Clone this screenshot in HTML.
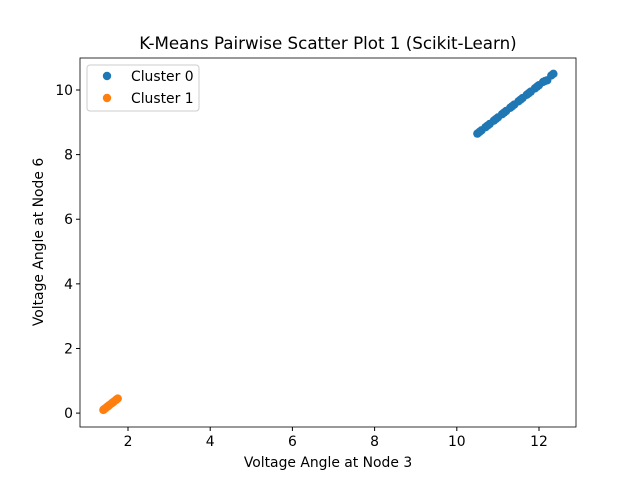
<!DOCTYPE html>
<html><head><meta charset="utf-8"><style>body{margin:0;background:#fff}svg{display:block;font-family:"DejaVu Sans","Liberation Sans",sans-serif}</style></head>
<body>
<svg id="c" width="640" height="480"></svg>
<script>
const xTicks=[2,4,6,8,10,12];
const yTicks=[0,2,4,6,8,10];
const c0x=[10.5,10.6,10.7,10.8,10.9,11.0,11.1,11.2,11.3,11.4,11.5,11.6,11.7,11.8,11.9,12.0,12.1,12.2,12.3,12.35,10.55,10.75,10.95,11.15,11.35,11.55,11.75,11.95,12.15];
const c0y=[8.65,8.75,8.85,8.95,9.05,9.15,9.25,9.35,9.45,9.55,9.65,9.75,9.85,9.95,10.05,10.15,10.25,10.3,10.45,10.5,8.7,8.9,9.1,9.3,9.5,9.7,9.9,10.1,10.28];
const c1x=[1.4,1.45,1.5,1.55,1.6,1.65,1.7,1.75,1.42,1.52,1.62,1.72];
const c1y=[0.1,0.15,0.2,0.25,0.3,0.35,0.4,0.45,0.12,0.22,0.32,0.42];
const L=80,R=576,T=58,B=427,xmin=0.832,xmax=12.9,ymin=-0.43,ymax=10.99;
const sx=v=>L+(v-xmin)/(xmax-xmin)*(R-L), sy=v=>B-(v-ymin)/(ymax-ymin)*(B-T);
const svg=document.getElementById('c');const NS='http://www.w3.org/2000/svg';
function mk(t,a,txt){const e=document.createElementNS(NS,t);for(const k in a)e.setAttribute(k,a[k]);if(txt!==undefined)e.textContent=txt;svg.appendChild(e);return e;}
let e=mk('text',{x:328,y:49,'text-anchor':'middle','font-size':16.7},'K-Means Pairwise Scatter Plot 1 (Scikit-Learn)');


xTicks.forEach(v=>{const x=sx(v);
 let t=mk('line',{x1:x,x2:x,y1:B,y2:B+4,stroke:'#000'});
 
 
 let l=mk('text',{x:x,y:B+19,'text-anchor':'middle','font-size':13.9},String(v));
 
 });
yTicks.forEach(v=>{const y=sy(v);
 let t=mk('line',{x1:L-4,x2:L,y1:y,y2:y,stroke:'#000'});
 
 
 let l=mk('text',{x:L-7,y:y+5,'text-anchor':'end','font-size':13.9},String(v));
 
 });
function pts(xs,ys,col,name){xs.forEach((x,i)=>{let p=mk('circle',{cx:sx(x),cy:sy(ys[i]),r:4.2,fill:col});
 
 });}
pts(c0x,c0y,'#1f77b4','cluster-0-point');
pts(c1x,c1y,'#ff7f0e','cluster-1-point');
e=mk('rect',{x:L,y:T,width:R-L,height:B-T,fill:'none',stroke:'#000','stroke-width':0.8});


e=mk('text',{x:328,y:467,'text-anchor':'middle','font-size':13.9},'Voltage Angle at Node 3');


e=mk('text',{x:0,y:0,'text-anchor':'middle','font-size':13.9,transform:'translate(43,242) rotate(-90)'},'Voltage Angle at Node 6');


e=mk('rect',{x:87,y:65,width:112,height:46,rx:3,fill:'#fff',stroke:'#ccc'});


[['Cluster 0','#1f77b4',76],['Cluster 1','#ff7f0e',98]].forEach(([n,col,y])=>{
 let m=mk('circle',{cx:107,cy:y,r:4.2,fill:col});
 
 
 let t=mk('text',{x:131,y:y+5,'font-size':13.9},n);
 
 });
</script>
</body></html>
